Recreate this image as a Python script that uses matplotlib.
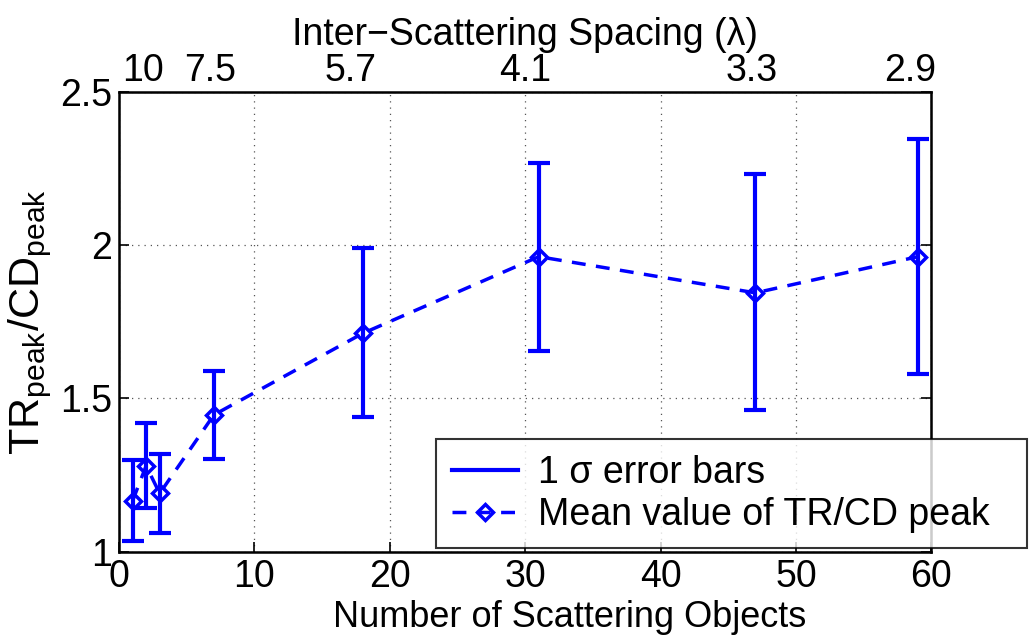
import numpy as np
import matplotlib.pyplot as plt

plt.rcParams['font.family'] = ['Liberation Sans', 'DejaVu Sans']
plt.rcParams['mathtext.fontset'] = 'custom'
plt.rcParams['mathtext.rm'] = 'Liberation Sans'

# number of scattering objects and TR/CD peak ratio statistics
n_objects = [1, 2, 3, 7, 18, 31, 47, 59]
mean_ratio = [1.166, 1.280, 1.190, 1.446, 1.712, 1.962, 1.844, 1.962]
upper = [1.299, 1.419, 1.317, 1.589, 1.989, 2.268, 2.230, 2.347]
lower = [1.035, 1.143, 1.062, 1.302, 1.440, 1.655, 1.462, 1.581]

# spacing labels shown along the top
spacing_pos = [1.8, 6.7, 17.1, 30.0, 46.7, 58.4]
spacing_labels = ['10', '7.5', '5.7', '4.1', '3.3', '2.9']

mean_ratio = np.array(mean_ratio)
yerr = [mean_ratio - np.array(lower), np.array(upper) - mean_ratio]

fig = plt.figure(figsize=(10.29, 6.41), dpi=100)
ax = fig.add_axes([0.1157, 0.1393, 0.7895, 0.7177])

blue = '#0000ff'
eb = ax.errorbar(n_objects, mean_ratio, yerr=yerr, fmt='none', ecolor=blue,
                 elinewidth=3, capsize=8, capthick=3, zorder=3)
ln, = ax.plot(n_objects, mean_ratio, '--', color=blue, lw=2.5, dashes=(4, 3),
              marker='D', markersize=8, markerfacecolor='none',
              markeredgewidth=2.5, zorder=4)

ax.set_xlim(0, 60)
ax.set_ylim(1, 2.5)
ax.set_xticks(np.arange(0, 61, 10))
ax.set_yticks([1, 1.5, 2, 2.5])
ax.set_yticklabels(['1', '1.5', '2', '2.5'])
ax.grid(True, linestyle=(0, (1, 4)), color='#555555', linewidth=0.9)
ax.tick_params(direction='in', length=7, width=1.2, labelsize=27,
               top=True, right=True, pad=5)
for s in ax.spines.values():
    s.set_linewidth(1.8)

ax.set_xlabel('Number of Scattering Objects', fontsize=26)
ax.xaxis.set_label_coords(0.555, -0.105)
ax.set_ylabel(r'TR$_{\mathregular{peak}}$/CD$_{\mathregular{peak}}$',
              fontsize=31, labelpad=4)

top = ax.twiny()
top.set_xlim(ax.get_xlim())
top.set_xticks(spacing_pos)
top.set_xticklabels(spacing_labels)
top.tick_params(length=0, labelsize=27, pad=2)
top.set_xlabel('Inter\u2212Scattering Spacing (\u03bb)', fontsize=27, labelpad=6)

leg = fig.legend([eb.lines[2][0], ln], ['1 \u03c3 error bars', 'Mean value of TR/CD peak'],
                 loc='lower left', bbox_to_anchor=(0.424, 0.1445, 0.574, 0.17),
                 mode='expand', fontsize=27, frameon=True, fancybox=False,
                 edgecolor='black', handlelength=1.75, borderpad=0.42,
                 labelspacing=0.15, borderaxespad=0, handletextpad=0.55)
leg.get_frame().set_linewidth(1.5)
leg.legend_handles[0].set_linestyle('-')

fig.savefig('out.png', dpi=100)
